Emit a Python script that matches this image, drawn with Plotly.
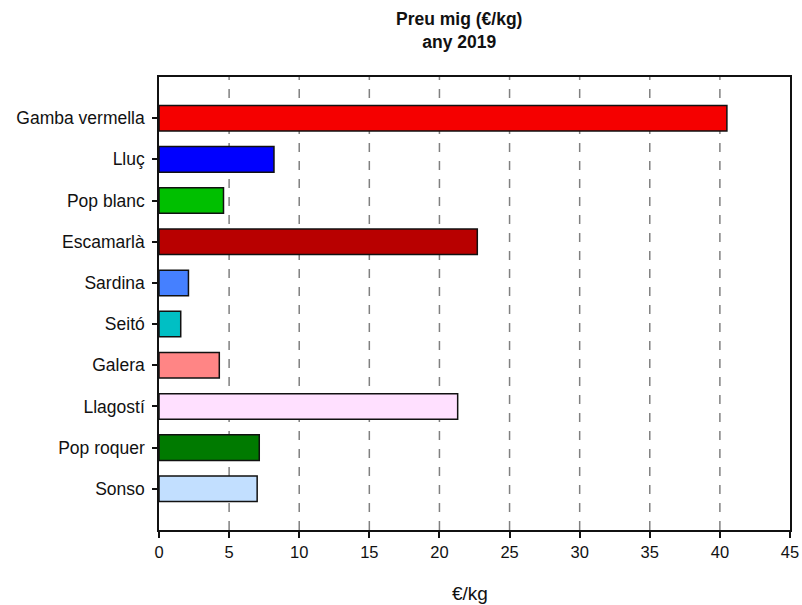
import plotly.graph_objects as go

categories = ["Gamba vermella", "Lluç", "Pop blanc", "Escamarlà", "Sardina",
              "Seitó", "Galera", "Llagostí", "Pop roquer", "Sonso"]
values = [40.5, 8.2, 4.6, 22.7, 2.1, 1.55, 4.3, 21.3, 7.15, 7.0]
colors = ["#F50000", "#0000FF", "#00BF00", "#B80000", "#4580FF",
          "#00BFC4", "#FF8585", "#FFE0FF", "#007A00", "#C2DFFF"]
x_ticks = [0, 5, 10, 15, 20, 25, 30, 35, 40, 45]

W, H = 802, 605
L, T = 159, 77
R = W - 790
B = H - 530
pw, ph = W - L - R, H - T - B

fig = go.Figure()
fig.add_trace(go.Bar(
    y=categories, x=values, orientation="h",
    marker=dict(color=colors, line=dict(color="#111111", width=1.5)),
    width=0.62,
))

for v in x_ticks[1:-1]:
    fig.add_shape(type="line", x0=v, x1=v, y0=0, y1=1, xref="x", yref="paper",
                  line=dict(color="#808080", width=1.5, dash="dash"), layer="below")

fig.update_layout(
    width=W, height=H,
    margin=dict(l=L, r=R, t=T, b=B, autoexpand=False),
    paper_bgcolor="white", plot_bgcolor="white",
    font=dict(family="Liberation Sans, Arial, sans-serif", size=16, color="#111111"),
    showlegend=False,
    xaxis=dict(range=[0, 45], tickvals=x_ticks, ticks="outside", ticklen=6,
               tickwidth=1.5, tickcolor="#111111", showgrid=False, zeroline=False,
               showline=True, linecolor="#111111", linewidth=1.5, mirror=True,
               automargin=False, tickfont=dict(size=16.5)),
    yaxis=dict(categoryorder="array", categoryarray=categories, autorange=False,
               range=[10, -1], ticks="outside", ticklen=5, tickwidth=1.5,
               tickcolor="#111111", showgrid=False, zeroline=False, showline=True,
               linecolor="#111111", linewidth=1.5, mirror=True, automargin=False,
               ticklabelstandoff=4, tickfont=dict(size=17.5)),
    annotations=[
        dict(text="<b>Preu mig (€/kg)<br>any 2019</b>",
             x=(459 - L) / pw, y=1 + (T - 31) / ph,
             xref="paper", yref="paper", showarrow=False,
             xanchor="center", yanchor="middle", font=dict(size=17.5)),
        dict(text="€/kg", x=(470 - L) / pw, y=-(593 - 530) / ph,
             xref="paper", yref="paper", showarrow=False,
             xanchor="center", yanchor="middle", font=dict(size=19)),
    ],
)
fig.write_html("out.html", config={"displayModeBar": False},
               post_script="document.body.style.margin='0';document.body.style.overflow='hidden';")
